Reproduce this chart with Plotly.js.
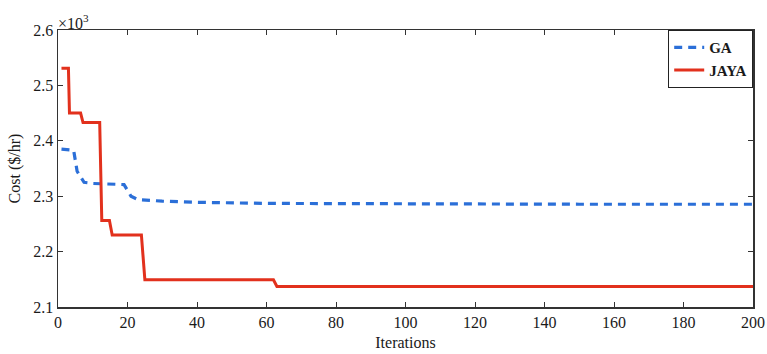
<!DOCTYPE html>
<html>
<head>
<meta charset="utf-8">
<script src="https://cdn.plot.ly/plotly-3.0.1.min.js"></script>
<style>html,body{margin:0;padding:0;background:#fff;}#chart{width:767px;height:354px;}</style>
</head>
<body>
<div id="chart"></div>
<script>
// Iterations and cost (×10^3 $/hr)
var gaIter   = [1, 4.5, 5.5, 7.5, 10, 19, 21, 23, 30, 40, 60, 100, 150, 200];
var gaCost   = [2.385, 2.383, 2.345, 2.325, 2.323, 2.321, 2.300, 2.294, 2.291, 2.289, 2.287, 2.286, 2.2855, 2.2855];
var jayaIter = [1, 3, 3.3, 6.5, 7.2, 12, 12.6, 14.8, 15.6, 24, 25, 62, 63, 200];
var jayaCost = [2.531, 2.531, 2.450, 2.450, 2.433, 2.433, 2.256, 2.256, 2.230, 2.230, 2.149, 2.149, 2.137, 2.137];
var xTicks = [0, 20, 40, 60, 80, 100, 120, 140, 160, 180, 200];
var yTicks = [2.1, 2.2, 2.3, 2.4, 2.5, 2.6];
var yTickText = ['2.1', '2.2', '2.3', '2.4', '2.5', '2.6'];

var font = {family: 'Liberation Serif, serif', size: 16, color: '#1a1a1a'};
var traces = [
  {x: gaIter, y: gaCost, name: 'GA', mode: 'lines',
   line: {color: '#2b6fd8', width: 3.2, dash: '8px,6px'}},
  {x: jayaIter, y: jayaCost, name: 'JAYA', mode: 'lines',
   line: {color: '#e2311d', width: 3}}
];
var axisCommon = {showgrid: false, zeroline: false, showline: true, linecolor: '#333', linewidth: 1.5,
  mirror: 'ticks', ticks: 'inside', ticklen: 5, tickcolor: '#333', tickwidth: 1, tickfont: font};
var layout = {
  width: 767, height: 354,
  margin: {l: 58, r: 14, t: 30, b: 47},
  paper_bgcolor: '#fff', plot_bgcolor: '#fff',
  font: font,
  showlegend: true,
  legend: {x: 1, y: 1, xanchor: 'right', yanchor: 'top', bgcolor: '#fff', bordercolor: '#222', borderwidth: 1.2,
    font: {family: 'Liberation Serif, serif', size: 15, color: '#1a1a1a', weight: 'bold'}, tracegroupgap: 0, itemwidth: 30},
  xaxis: Object.assign({}, axisCommon, {range: [0, 200], tickvals: xTicks,
    title: {text: 'Iterations', font: font, standoff: 7}}),
  yaxis: Object.assign({}, axisCommon, {range: [2.1, 2.6], tickvals: yTicks, ticktext: yTickText,
    title: {text: 'Cost ($/hr)', font: font, standoff: 8}}),
  annotations: [{xref: 'paper', yref: 'paper', x: 0, y: 1, xanchor: 'left', yanchor: 'bottom',
    text: '×10<sup>3</sup>', showarrow: false, font: font, xshift: -2, yshift: -4}]
};
Plotly.newPlot('chart', traces, layout, {displayModeBar: false, staticPlot: true});
</script>
</body>
</html>
